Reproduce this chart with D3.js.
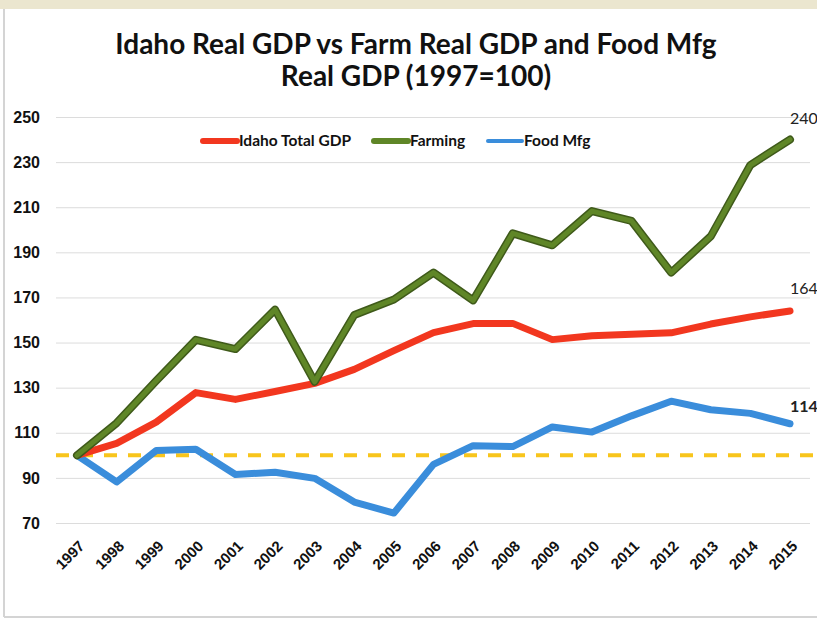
<!DOCTYPE html>
<html>
<head>
<meta charset="utf-8">
<script src="https://cdn.jsdelivr.net/npm/d3@7"></script>
<style>
  body { margin: 0; background: #fff; }
  svg { display: block; font-family: Lato, "Open Sans", sans-serif; }
</style>
</head>
<body>
<div id="chart"></div>
<script>
// data (index, 1997 = 100)
let years = ["1997","1998","1999","2000","2001","2002","2003","2004","2005","2006",
             "2007","2008","2009","2010","2011","2012","2013","2014","2015"];
let idahoTotal = [100,105.3,114.7,127.8,124.8,128.3,131.9,138.1,146.4,154.4,
                  158.4,158.5,151.3,153,153.7,154.3,158.2,161.4,164];
let farming = [100,114.3,133.1,151.2,147.1,164.6,132.6,162.2,169.1,181,
               168.7,198.4,193.1,208.3,203.9,181,197.1,228.7,240];
let foodMfg = [100,88.2,102.1,102.7,91.5,92.5,89.8,79.3,74.4,96,
               104.3,103.9,112.6,110.3,117.5,124,120.2,118.6,114];
let baseLine = 100;
let yTicks = [70,90,110,130,150,170,190,210,230,250];
let endLabels = ["240","164","114"];

(function () {
    let width = 817, height = 619;

    let svg = d3.select("#chart").append("svg")
        .attr("width", width)
        .attr("height", height);

    // scan-ish frame
    svg.append("rect")
        .attr("x", 0).attr("y", 0).attr("width", width).attr("height", 9)
        .attr("fill", "#ebe6cf");
    svg.append("line")
        .attr("x1", 4).attr("x2", 4).attr("y1", 9).attr("y2", 617)
        .attr("stroke", "#d4d4d4").attr("stroke-width", 2);
    svg.append("line")
        .attr("x1", 4).attr("x2", width).attr("y1", 617).attr("y2", 617)
        .attr("stroke", "#d4d4d4").attr("stroke-width", 2);

    let plotLeft = 56, plotRight = 810;

    let x = d3.scalePoint().domain(years).range([77, 790]);
    let y = d3.scaleLinear().domain([70, 250]).range([523, 117]);

    // title
    let title = svg.append("text")
        .attr("text-anchor", "middle")
        .style("font-weight", "bold")
        .style("font-size", "28px")
        .attr("fill", "#111");
    title.append("tspan").attr("x", 416).attr("y", 54)
        .text("Idaho Real GDP vs Farm Real GDP and Food Mfg");
    title.append("tspan").attr("x", 416).attr("y", 86)
        .text("Real GDP (1997=100)");

    // y axis + gridlines
    let yAxis = svg.append("g")
        .attr("transform", "translate(" + plotLeft + ",0)")
        .call(d3.axisLeft(y).tickValues(yTicks)
            .tickSize(-(plotRight - plotLeft)).tickPadding(16));
    yAxis.select(".domain").remove();
    yAxis.selectAll("line").attr("stroke", "#dcdcdc");
    yAxis.selectAll("text")
        .style("font-size", "16px")
        .style("font-weight", "bold")
        .attr("fill", "#111");

    // x axis labels, rotated
    let xAxis = svg.append("g")
        .attr("transform", "translate(0,523)")
        .call(d3.axisBottom(x).tickSize(0));
    xAxis.select(".domain").remove();
    xAxis.selectAll("text")
        .attr("x", 0).attr("y", 0).attr("dy", 0)
        .attr("text-anchor", "end")
        .attr("transform", "translate(8,24) rotate(-45)")
        .style("font-size", "15px")
        .style("font-weight", "bold")
        .attr("fill", "#111");

    // dashed 1997 baseline
    svg.append("line")
        .attr("x1", plotLeft).attr("x2", width)
        .attr("y1", y(baseLine)).attr("y2", y(baseLine))
        .attr("stroke", "#f8c51c")
        .attr("stroke-width", 4)
        .attr("stroke-dasharray", "13,11");

    let line = d3.line()
        .x(function (d, i) { return x(years[i]); })
        .y(function (d) { return y(d); });

    let series = [
        { name: "Food Mfg", values: foodMfg, colour: "#3a8ddb", edge: null },
        { name: "Idaho Total GDP", values: idahoTotal, colour: "#f2371f", edge: null },
        { name: "Farming", values: farming, colour: "#5f8627", edge: "#3f5a1a" }
    ];

    series.forEach(function (s) {
        if (s.edge) {
            svg.append("path")
                .attr("d", line(s.values))
                .attr("fill", "none")
                .attr("stroke", s.edge)
                .attr("stroke-width", 8)
                .attr("stroke-linejoin", "round")
                .attr("stroke-linecap", "round");
        }
        svg.append("path")
            .attr("d", line(s.values))
            .attr("fill", "none")
            .attr("stroke", s.colour)
            .attr("stroke-width", s.edge ? 5 : 7)
            .attr("stroke-linejoin", "round")
            .attr("stroke-linecap", "round");
    });

    // end labels
    let ends = [
        { text: endLabels[0], v: farming[farming.length - 1], dy: -16, bold: false },
        { text: endLabels[1], v: idahoTotal[idahoTotal.length - 1], dy: -17, bold: false },
        { text: endLabels[2], v: foodMfg[foodMfg.length - 1], dy: -12, bold: true }
    ];
    ends.forEach(function (e) {
        svg.append("text")
            .attr("x", x("2015") + 0)
            .attr("y", y(e.v) + e.dy)
            .style("font-size", "16px")
            .style("font-weight", e.bold ? "bold" : "normal")
            .attr("fill", "#222")
            .text(e.text);
    });

    // legend
    let legendItems = [
        { name: "Idaho Total GDP", colour: "#f2371f", x: 203 },
        { name: "Farming", colour: "#5f8627", x: 374 },
        { name: "Food Mfg", colour: "#3a8ddb", x: 488 }
    ];
    let legend = svg.append("g").attr("transform", "translate(0,141)");
    legendItems.forEach(function (d) {
        legend.append("line")
            .attr("x1", d.x).attr("x2", d.x + 34)
            .attr("y1", 0).attr("y2", 0)
            .attr("stroke", d.colour)
            .attr("stroke-width", d.name === "Food Mfg" ? 4 : 6)
            .attr("stroke-linecap", "round");
        legend.append("text")
            .attr("x", d.x + 36)
            .attr("y", 5)
            .style("font-size", "15.5px")
            .style("font-weight", "bold")
            .attr("fill", "#111")
            .text(d.name);
    });
})();
</script>
</body>
</html>
